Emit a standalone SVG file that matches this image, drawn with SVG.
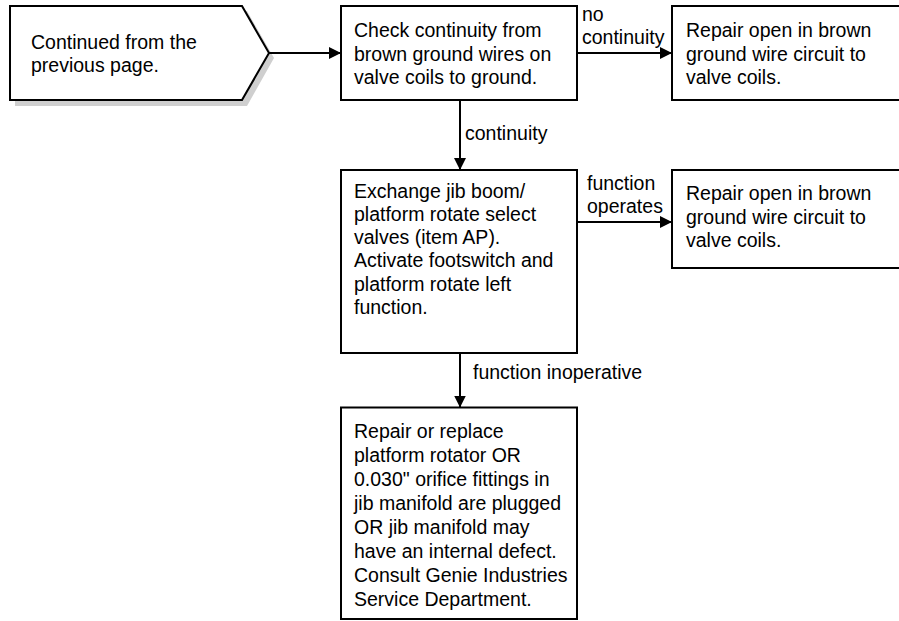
<svg xmlns="http://www.w3.org/2000/svg" width="899" height="621" viewBox="0 0 899 621">
<style>
.box{fill:#fff;stroke:#000;stroke-width:2}
.shadow{fill:#cfcfcf;stroke:none}
.t{font-family:"Liberation Sans",Arial,Helvetica,sans-serif;font-size:19.5px;fill:#000}
.c{fill:none;stroke:#000;stroke-width:2}
</style>
<defs>
<marker id="ah" markerUnits="userSpaceOnUse" markerWidth="12" markerHeight="12" refX="12" refY="6" orient="auto">
<path d="M0,0 L12,6 L0,12 Z" fill="#000"/>
</marker>
</defs>
<rect width="899" height="621" fill="#fff"/>
<g id="start">
<polygon class="shadow" points="15,11 247,11 274,58 247,106 15,106"/>
<polygon class="box" points="10,6 242,6 269,53 242,100 10,100"/>
<text class="t" x="31" y="48.5">Continued from the</text>
<text class="t" x="31" y="72">previous page.</text>
</g>
<g id="check">
<rect class="box" x="341" y="6" width="236" height="94"/>
<text class="t" x="354" y="37">Check continuity from</text>
<text class="t" x="354" y="60.5">brown ground wires on</text>
<text class="t" x="354" y="84">valve coils to ground.</text>
</g>
<g id="repair1">
<rect class="box" x="672" y="6" width="240" height="94"/>
<text class="t" x="686" y="37">Repair open in brown</text>
<text class="t" x="686" y="60.5">ground wire circuit to</text>
<text class="t" x="686" y="84">valve coils.</text>
</g>
<g id="exchange">
<rect class="box" x="341" y="170" width="236" height="183"/>
<text class="t" x="354" y="197.5">Exchange jib boom/</text>
<text class="t" x="354" y="220.8">platform rotate select</text>
<text class="t" x="354" y="244.1">valves (item AP).</text>
<text class="t" x="354" y="267.4">Activate footswitch and</text>
<text class="t" x="354" y="290.7">platform rotate left</text>
<text class="t" x="354" y="314">function.</text>
</g>
<g id="repair2">
<rect class="box" x="672" y="170" width="240" height="98"/>
<text class="t" x="686" y="200">Repair open in brown</text>
<text class="t" x="686" y="223.5">ground wire circuit to</text>
<text class="t" x="686" y="247">valve coils.</text>
</g>
<g id="final">
<rect class="box" x="341" y="407.5" width="236" height="211.5"/>
<text class="t" x="354" y="438">Repair or replace</text>
<text class="t" x="354" y="462">platform rotator OR</text>
<text class="t" x="354" y="486">0.030" orifice fittings in</text>
<text class="t" x="354" y="510">jib manifold are plugged</text>
<text class="t" x="354" y="534">OR jib manifold may</text>
<text class="t" x="354" y="558">have an internal defect.</text>
<text class="t" x="354" y="582">Consult Genie Industries</text>
<text class="t" x="354" y="606">Service Department.</text>
</g>
<g id="connectors">
<line class="c" x1="269" y1="53" x2="341" y2="53" marker-end="url(#ah)"/>
<line class="c" x1="577" y1="53" x2="672" y2="53" marker-end="url(#ah)"/>
<line class="c" x1="460" y1="100" x2="460" y2="170" marker-end="url(#ah)"/>
<line class="c" x1="577" y1="222" x2="672" y2="222" marker-end="url(#ah)"/>
<line class="c" x1="460" y1="353" x2="460" y2="407.5" marker-end="url(#ah)"/>
<text class="t" x="582" y="20.5">no</text>
<text class="t" x="582" y="44">continuity</text>
<text class="t" x="465" y="140">continuity</text>
<text class="t" x="587" y="190">function</text>
<text class="t" x="587" y="212.5">operates</text>
<text class="t" x="473" y="379">function inoperative</text>
</g>
</svg>
